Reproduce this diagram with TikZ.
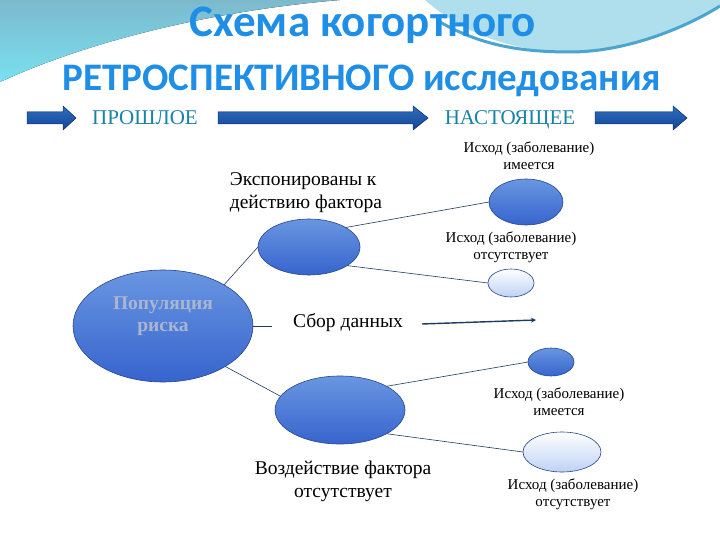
\documentclass[tikz,border=0pt]{standalone}
\usepackage{fontspec}
\setmainfont{Liberation Serif}
\newfontfamily\titlefont{Carlito}
\usetikzlibrary{shapes.geometric}
\usetikzlibrary{arrows.meta}

\definecolor{titleblue}{RGB}{30,142,230}
\definecolor{timeteal}{RGB}{25,130,165}
\definecolor{arrowtop}{RGB}{45,110,190}
\definecolor{arrowbottom}{RGB}{20,70,150}
\definecolor{arrowedge}{RGB}{20,55,115}
\definecolor{ovaltop}{RGB}{105,150,225}
\definecolor{ovalbottom}{RGB}{55,100,205}
\definecolor{ovaledge}{RGB}{40,70,140}
\definecolor{palebottom}{RGB}{190,210,245}
\definecolor{linkcol}{RGB}{30,60,95}
\definecolor{popgray}{RGB}{170,182,208}
\definecolor{bgtop}{RGB}{125,185,205}
\definecolor{bgcyan}{RGB}{120,225,240}
\definecolor{bgright}{RGB}{175,222,236}
\definecolor{bgband}{RGB}{75,165,205}

\newcommand{\timearrow}[3]{%
  \fill[timearrowstyle] (#1,112) -- (#2,112) -- (#2,106) -- (#3,118)
    -- (#2,130) -- (#2,124) -- (#1,124) -- cycle;}

\begin{document}
\begin{tikzpicture}[
            x = 1pt,
            y = -1pt,
            oval/.style 2 args = {
                ellipse,
                draw = ovaledge,
                line width = 0.6pt,
                minimum width = #1,
                minimum height = #2,
                inner sep = 0pt,
                outer sep = 0pt,
                top color = ovaltop,
                bottom color = ovalbottom
            },
            paleoval/.style 2 args = {
                oval = {#1}{#2},
                top color = white,
                bottom color = palebottom
            },
            link/.style = {draw = linkcol, line width = 0.6pt},
            flow/.style = {draw = linkcol, line width = 1.4pt,
                -{Stealth[length = 5pt, width = 5pt]}},
            timearrowstyle/.style = {top color = arrowtop,
                bottom color = arrowbottom, draw = arrowedge, line width = 0.5pt},
            titletext/.style = {font = \titlefont\bfseries\fontsize{#1}{#1}\selectfont,
                text = titleblue, anchor = base, inner sep = 0pt},
            timetext/.style = {font = \fontsize{21}{23}\selectfont,
                text = timeteal, anchor = base, inner sep = 0pt},
            biglabel/.style = {font = \fontsize{19.5}{23}\selectfont, inner sep = 0pt},
            smalllabel/.style = {font = \fontsize{15}{17}\selectfont,
                align = center, inner sep = 0pt}
            ]
            \useasboundingbox (0,0) rectangle (720,540);
            \fill[white] (0,0) rectangle (720,540);

            % background waves
            \fill[top color = bgtop, bottom color = bgcyan]
                (0,0) -- (0,82) .. controls (80,45) and (200,12) .. (340,0) -- cycle;
            \fill[bgright] (425,0) .. controls (465,35) and (515,52) .. (570,52)
                .. controls (630,52) and (690,25) .. (720,6) -- (720,0) -- cycle;
            \draw[bgband, line width = 3pt] (440,22) .. controls (480,45) and (520,52) .. (570,52)
                .. controls (630,52) and (690,25) .. (720,6);

            % title
            \node[titletext = 45] (title1) at (363,37) {Схема когортного};
            \node[titletext = 39] (title2) at (362,91) {РЕТРОСПЕКТИВНОГО исследования};

            % time axis
            \timearrow{27}{63}{76}
            \timearrow{218}{413}{428}
            \timearrow{595}{673}{687}
            \node[timetext] (past) at (145,125) {ПРОШЛОЕ};
            \node[timetext] (now) at (510,125) {НАСТОЯЩЕЕ};

            % ovals
            \node[oval = {180pt}{112pt}] (pop) at (163,326) {};
            \node[font = \bfseries\fontsize{19.5}{22}\selectfont, text = popgray,
                align = center, inner sep = 0pt] (poptext) at (163,316) {Популяция\\риска};
            \node[oval = {102pt}{56pt}] (expo) at (309,247) {};
            \node[oval = {130pt}{68pt}] (unexp) at (340,410) {};
            \node[oval = {74pt}{46pt}] (out1) at (526,202) {};
            \node[paleoval = {46pt}{28pt}] (out2) at (511,283) {};
            \node[oval = {46pt}{28pt}] (out3) at (551,362) {};
            \node[paleoval = {78pt}{40pt}] (out4) at (562,452) {};

            % labels
            \node[biglabel, align = left] (expolabel) at (306,193) {Экспонированы к\\действию фактора};
            \node[biglabel] (sbor) at (348,323) {Сбор данных};
            \node[biglabel, align = center] (unexplabel) at (343,481) {Воздействие фактора\\отсутствует};
            \node[smalllabel] (out1label) at (529,156) {Исход (заболевание)\\имеется};
            \node[smalllabel] (out2label) at (511,247) {Исход (заболевание)\\отсутствует};
            \node[smalllabel] (out3label) at (559,402) {Исход (заболевание)\\имеется};
            \node[smalllabel] (out4label) at (573,494) {Исход (заболевание)\\отсутствует};

            % connectors
            \coordinate (c1) at (272,326);
            \coordinate (c2) at (422,324);
            \coordinate (c3) at (536,320);
            \draw[link] (pop.34) -- (expo.west);
            \draw[link] (pop.-33) -- (unexp.167);
            \draw[link] (pop.east) -- (c1);
            \draw[flow] (c2) -- (c3);
            \draw[link] (expo.28) -- (out1.west);
            \draw[link] (expo.-26) -- (out2.west);
            \draw[link] (unexp.27) -- (out3.west);
            \draw[link] (unexp.-27) -- (out4.west);
        \end{tikzpicture}
\end{document}
